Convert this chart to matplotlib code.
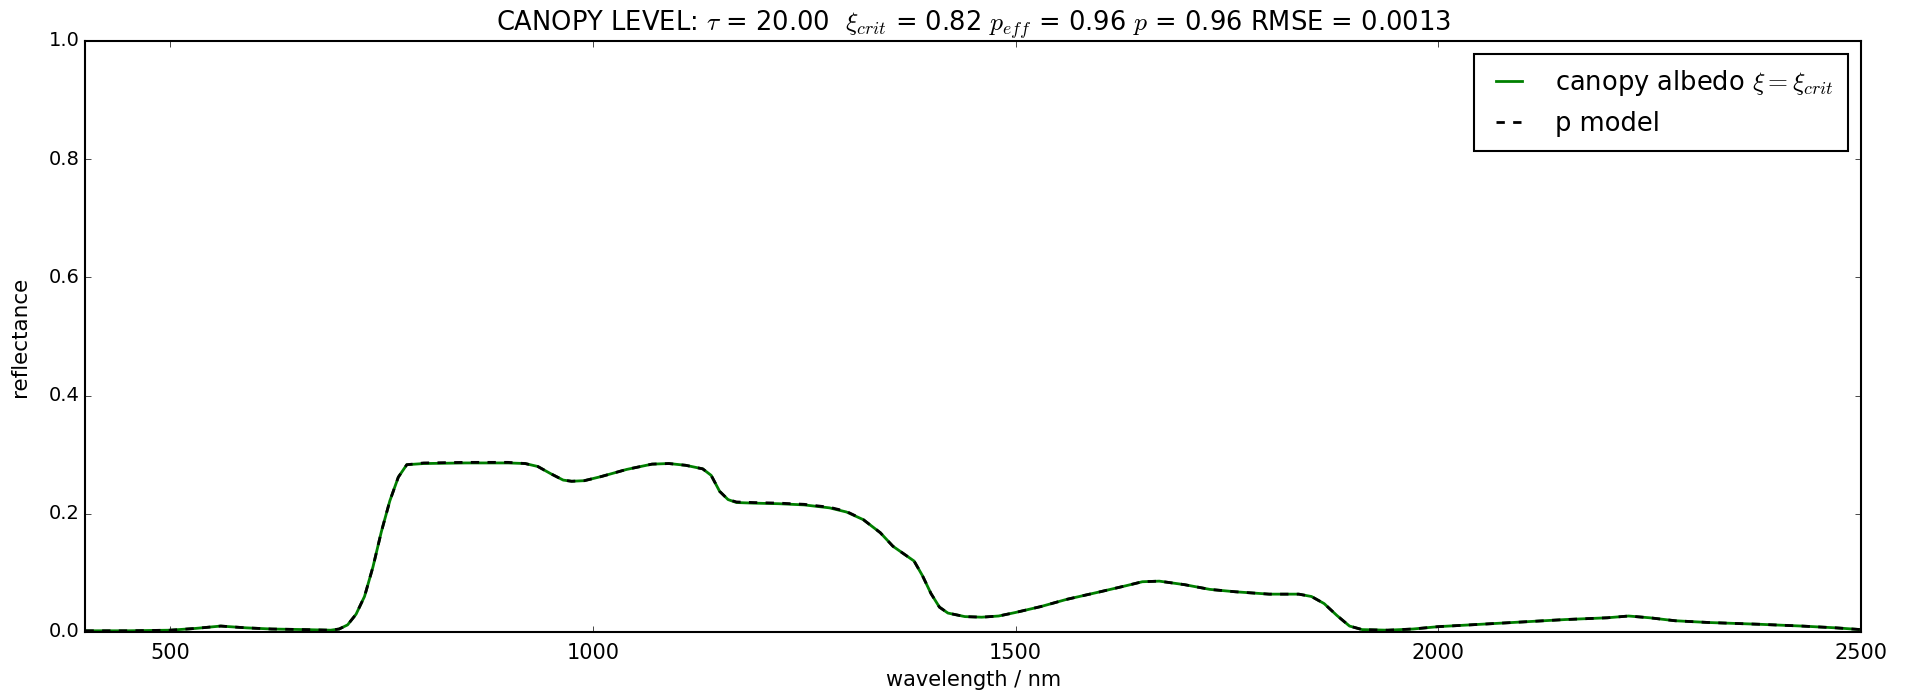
import numpy as np
import matplotlib
matplotlib.use("Agg")
import matplotlib.pyplot as plt

# wavelength (nm) and reflectance
wavelength = [400, 450, 500, 530, 560, 590, 620, 660, 690, 700, 710, 720, 730,
              740, 750, 760, 770, 780, 800, 850, 900, 920, 935, 950, 965, 975,
              990, 1010, 1040, 1070, 1090, 1110, 1130, 1140, 1150, 1160, 1170,
              1190, 1220, 1250, 1280, 1300, 1320, 1340, 1355, 1370, 1380, 1390,
              1400, 1410, 1420, 1440, 1460, 1480, 1500, 1530, 1560, 1600, 1630,
              1650, 1670, 1700, 1730, 1760, 1800, 1835, 1850, 1865, 1880, 1895,
              1910, 1940, 1970, 2000, 2050, 2100, 2150, 2200, 2225, 2250, 2280,
              2320, 2380, 2430, 2470, 2500]
albedo = [0.002, 0.002, 0.003, 0.006, 0.010, 0.007, 0.005, 0.004, 0.003, 0.005,
          0.012, 0.030, 0.060, 0.110, 0.170, 0.222, 0.262, 0.283, 0.285, 0.286,
          0.286, 0.285, 0.280, 0.268, 0.257, 0.255, 0.256, 0.263, 0.275, 0.284,
          0.285, 0.282, 0.276, 0.265, 0.238, 0.224, 0.219, 0.218, 0.217, 0.215,
          0.210, 0.203, 0.190, 0.168, 0.145, 0.130, 0.120, 0.095, 0.065, 0.042,
          0.032, 0.026, 0.025, 0.027, 0.033, 0.043, 0.055, 0.068, 0.078, 0.085,
          0.086, 0.080, 0.072, 0.068, 0.064, 0.064, 0.060, 0.048, 0.028, 0.010,
          0.004, 0.003, 0.005, 0.009, 0.013, 0.017, 0.021, 0.024, 0.027, 0.024,
          0.019, 0.016, 0.013, 0.010, 0.007, 0.004]
p_model = [0.002, 0.002, 0.003, 0.006, 0.010, 0.007, 0.005, 0.004, 0.003, 0.005,
           0.012, 0.030, 0.060, 0.110, 0.170, 0.222, 0.262, 0.283, 0.286, 0.287,
           0.287, 0.285, 0.280, 0.268, 0.257, 0.255, 0.256, 0.263, 0.275, 0.284,
           0.285, 0.282, 0.276, 0.265, 0.238, 0.224, 0.220, 0.219, 0.218, 0.216,
           0.211, 0.204, 0.190, 0.168, 0.145, 0.130, 0.120, 0.095, 0.065, 0.042,
           0.032, 0.026, 0.025, 0.027, 0.033, 0.043, 0.055, 0.068, 0.078, 0.085,
           0.086, 0.080, 0.072, 0.068, 0.064, 0.064, 0.060, 0.048, 0.028, 0.010,
           0.004, 0.003, 0.005, 0.009, 0.013, 0.017, 0.021, 0.024, 0.027, 0.024,
           0.019, 0.016, 0.013, 0.010, 0.007, 0.004]

title = (r"CANOPY LEVEL: $\tau$ = 20.00  $\xi_{crit}$ = 0.82 $p_{eff}$ = 0.96 "
         r"$p$ = 0.96 RMSE = 0.0013")

plt.style.use("classic")
plt.rcParams["font.family"] = ["DejaVu Sans"]
plt.rcParams["mathtext.fontset"] = "cm"
plt.rcParams["figure.facecolor"] = "white"

fig = plt.figure(figsize=(19.08, 6.98), dpi=100)
ax = fig.add_axes([0.0448, 0.0946, 0.9306, 0.8467])

ax.plot(wavelength, albedo, color="g", lw=2.0,
        label=r"canopy albedo $\xi = \xi_{crit}$")
ax.plot(wavelength, p_model, color="k", lw=2.0, linestyle=(0, (6, 6)),
        label="p model")

ax.set_xlim(400, 2500)
ax.set_ylim(0, 1)
ax.set_xticks([500, 1000, 1500, 2000, 2500])
ax.set_yticks([0.0, 0.2, 0.4, 0.6, 0.8, 1.0])
ax.tick_params(axis="x", labelsize=15, pad=8)
ax.tick_params(axis="y", labelsize=14)
for s in ax.spines.values():
    s.set_linewidth(1.5)

ax.set_xlabel("wavelength / nm", fontsize=15)
ax.set_ylabel("reflectance", fontsize=15.5, labelpad=14)
ax.set_title(title, fontsize=18.5, y=1.005)

leg = ax.legend(loc="upper right", fontsize=18.5, handlelength=1.6,
                handletextpad=1.0, labelspacing=0.5, borderpad=0.55)
leg.get_frame().set_linewidth(1.5)

fig.savefig("out.png", dpi=100, facecolor="white")
